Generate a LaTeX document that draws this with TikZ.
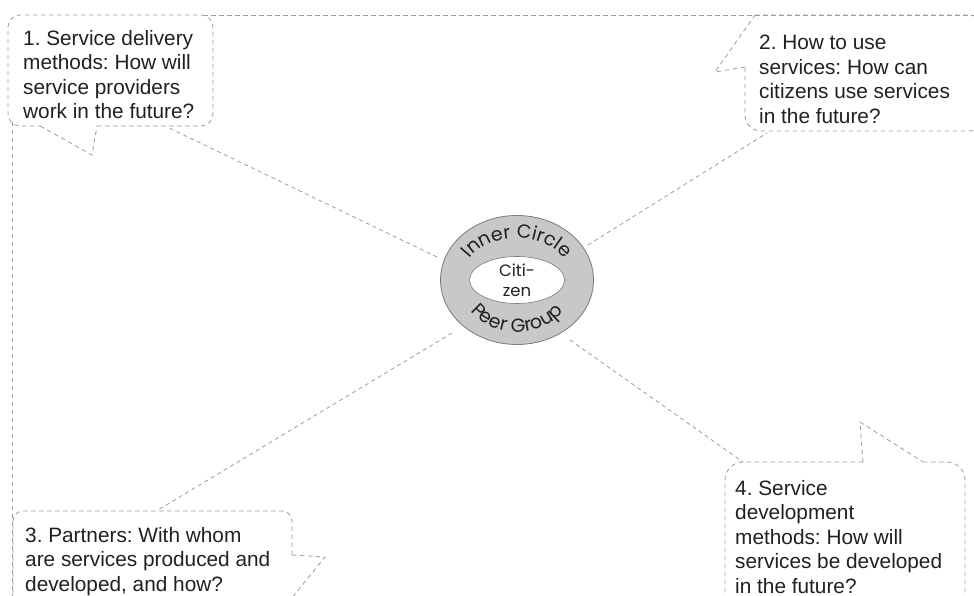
\documentclass[tikz,border=0pt]{standalone}
\usepackage{fontspec}
\setmainfont{Liberation Sans}
\newfontfamily\ringfont{Poppins}
\usetikzlibrary{calc,shapes.geometric,decorations.text}
\definecolor{dashgray}{HTML}{9C9C9C}
\definecolor{ringgray}{HTML}{C8C8C8}
\definecolor{ringline}{HTML}{7A7A7A}
\definecolor{inkgray}{HTML}{231F20}
\frenchspacing

\begin{document}
\begin{tikzpicture}[x=1pt,y=1pt,
	callout/.style={draw=dashgray,line width=0.8pt,dash pattern=on 4.5pt off 3.5pt,rounded corners=#1},
	callout/.default=12pt,
	pointer/.style={draw=dashgray,line width=0.8pt,dash pattern=on 4.5pt off 3.5pt},
	link/.style={draw=dashgray,line width=0.8pt,dash pattern=on 4pt off 3.5pt},
	question/.style={anchor=north west,inner sep=0pt,align=left,text=inkgray,font=\fontsize{20.8}{24.5}\selectfont}]
	\clip (0,0) rectangle (974,596);

	% frame lines
	\draw[pointer] (203,581) -- (990,581);
	\draw[pointer] (12,474) -- (12,-10);

	% callout 1
	\draw[callout] (97,470) -- (213,470) -- (213,581) -- (8,581) -- (8,470) -- (40,470);
	\draw[pointer] (40,470) -- (92,441) -- (97,470);
	% callout 2
	\draw[callout=16pt] (755,581) -- (985,581) -- (985,465) -- (745,465) -- (745,529);
	\draw[pointer] (745,529) -- (715,524) -- (755,581);
	% callout 3
	\draw[callout=10pt] (292,41) -- (292,85) -- (13,85) -- (13,-12);
	\draw[pointer] (292,41) -- (325,39) -- (287,-8);
	% callout 4
	\draw[callout=18pt] (863,134) -- (725,134) -- (725,-12);
	\draw[callout=18pt] (923,134) -- (965,134) -- (965,-12);
	\draw[pointer] (863,134) -- (860,174) -- (923,134);

	% ring
	\node[ellipse,draw=ringline,fill=ringgray,line width=0.8pt,minimum width=153pt,minimum height=129pt,inner sep=0pt] (ring) at (517,316) {};
	\node[ellipse,draw=ringline,fill=white,line width=0.6pt,minimum width=95pt,minimum height=47pt,inner sep=0pt,align=center,text=inkgray,font=\ringfont\fontsize{16.5}{20}\selectfont] (core) at (517,316) {Citi-\\zen};
	\path[decorate,decoration={text along path,text align=center,text color=inkgray,
		text={|\ringfont\fontsize{19}{19}\selectfont|Inner Circle}}]
		(517,316) ++(155:55 and 42) arc[start angle=155,end angle=25,x radius=55,y radius=42];
	\path[decorate,decoration={text along path,text align=center,text color=inkgray,
		text={|\ringfont\fontsize{19}{19}\selectfont|Peer Group}}]
		(517,316) ++(205:58 and 52) arc[start angle=205,end angle=335,x radius=58,y radius=52];

	% connectors
	\coordinate (t1) at (167,469);
	\coordinate (t2) at (767,463);
	\coordinate (t3) at (158,86);
	\coordinate (t4) at (743,134);
	\coordinate (r1) at ($(ring.center)+(-80,23)$);
	\coordinate (r2) at ($(ring.center)+(71,35)$);
	\coordinate (r3) at ($(ring.center)+(-65,-53)$);
	\coordinate (r4) at ($(ring.center)+(53,-60)$);
	\foreach \a/\b in {r1/t1,r2/t2,r3/t3,r4/t4}
		\draw[link] (\a) -- (\b);

	% questions
	\node[question] (q1) at (23,566) {1. Service delivery\\methods: How will\\service providers\\work in the future?};
	\node[question] (q2) at (759,561) {2. How to use\\services: How can\\citizens use services\\in the future?};
	\node[question] (q3) at (25,69) {3. Partners: With whom\\are services produced and\\developed, and how?};
	\node[question] (q4) at (735,116) {4. Service\\development\\methods: How will\\services be developed\\in the future?};
\end{tikzpicture}
\end{document}
